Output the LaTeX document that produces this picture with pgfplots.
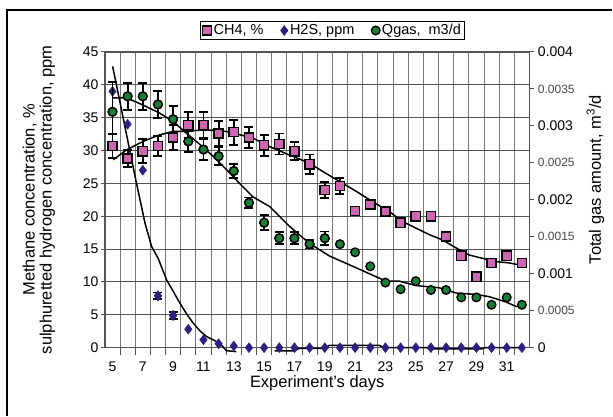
\documentclass[border=0pt]{standalone}
\usepackage{fontspec}
\setmainfont{Liberation Sans}
\usepackage{pgfplots}
\pgfplotsset{compat=1.18}
\usepackage{pgfplotstable}

\definecolor{chpink}{RGB}{204,102,176}
\definecolor{hsblue}{RGB}{46,30,130}
\definecolor{qgreen}{RGB}{24,128,52}
\definecolor{gridgray}{RGB}{120,120,120}
\definecolor{axgray}{RGB}{85,85,85}
\definecolor{labgray}{RGB}{70,70,70}

\newcommand\tickfont{\fontsize{14bp}{16bp}\selectfont}
\newcommand\smallfont{\fontsize{12bp}{14bp}\selectfont}
\newcommand\titlefont{\fontsize{16.5bp}{17bp}\selectfont}
\newcommand\legfont{\fontsize{14.5bp}{16bp}\selectfont}

% Methane, %: day, value, error
\pgfplotstableread{
day val err
5 30.7 1.8
6 28.8 1.3
7 29.9 1.8
8 30.7 1.5
9 32.0 1.9
10 33.9 2.0
11 33.9 2.0
12 32.6 1.9
13 32.8 1.9
14 32.0 1.6
15 30.8 1.6
16 31.0 1.6
17 29.9 1.35
18 27.9 1.5
19 24.0 1.2
20 24.6 1.2
21 20.8 0.5
22 21.8 0.7
23 20.7 0.75
}\chfourerr
\pgfplotstableread{
day val
5 30.7
6 28.8
7 29.9
8 30.7
9 32.0
10 33.9
11 33.9
12 32.6
13 32.8
14 32.0
15 30.8
16 31.0
17 29.9
18 27.9
19 24.0
20 24.6
21 20.8
22 21.8
23 20.7
24 19.0
25 20.0
26 20.0
27 16.9
28 14.0
29 10.8
30 12.9
31 14.0
32 12.9
}\chfour
\pgfplotstableread{
day val
5.05 28.6
5.93 30.1
7.03 31.4
8.13 32.4
9.0 32.9
9.88 32.9
10.76 33.1
11.63 33.1
12.51 32.9
13.39 32.4
14.26 31.9
15.36 30.6
16.68 29.3
17.99 28.1
18.87 26.8
19.97 25.3
21.07 23.8
22.16 22.2
23.26 20.7
24.13 19.2
25.01 18.2
25.89 17.2
26.76 16.4
27.64 15.2
28.52 14.1
29.39 13.6
30.28 13.1
31.15 12.9
32.03 12.5
}\chfourtrend

% Hydrogen sulphide, ppm
\pgfplotstableread{
day val
5 39.0
6 34.0
7 27.0
8 7.9
9 4.9
10 2.8
11 1.2
12 0.6
13 0.25
14 0
15 0
16 0
17 0
18 0
19 0
20 0
21 0
22 0
23 0
24 0
25 0
26 0
27 0
28 0
29 0
30 0
31 0
32 0
}\htwos
\pgfplotstableread{
day val err
8 7.9 0.5
9 4.9 0.5
}\htwoserr
\pgfplotstableread{
day val
5.01 42.8
5.5 37.3
6.0 31.6
6.55 25.4
7.14 19.0
7.58 15.4
8.01 13.6
8.57 10.3
9.0 8.6
9.44 6.8
9.9 5.1
10.32 3.75
10.75 2.6
11.2 1.7
12.07 0.7
12.51 -0.46
13.17 -0.6
}\htwostrendA
\pgfplotstableread{
day val
15.7 -0.5
17.0 -0.5
17.3 -0.1
19.0 -0.1
19.3 0.35
22.6 0.35
22.9 0
25.7 0
26.0 -0.2
29.3 -0.2
29.6 0
32.0 0
}\htwostrendB

% Total gas amount, m3/d
\pgfplotstableread{
day val err
5 0.00319 0.00040
6 0.00340 0.00018
7 0.00340 0.00018
8 0.00329 0.00018
9 0.00309 0.00018
10 0.00279 0.00014
11 0.00268 0.00014
12 0.00259 0.00012
13 0.00239 0.00009
14 0.00196 0.00007
15 0.00169 0.00010
16 0.00148 0.00008
17 0.00148 0.00008
18 0.00140 0.00006
19 0.00148 0.00009
}\qgaserr
\pgfplotstableread{
day val
5 0.00319
6 0.00340
7 0.00340
8 0.00329
9 0.00309
10 0.00279
11 0.00268
12 0.00259
13 0.00239
14 0.00196
15 0.00169
16 0.00148
17 0.00148
18 0.00140
19 0.00148
20 0.00140
21 0.00129
22 0.00110
23 0.00088
24 0.00079
25 0.00090
26 0.00078
27 0.00078
28 0.00068
29 0.00068
30 0.00058
31 0.00068
32 0.00058
}\qgas
\pgfplotstableread{
day val
5.01 0.00338
5.93 0.00338
7.03 0.00328
8.13 0.00317
9.0 0.00306
9.88 0.00290
10.76 0.00275
11.63 0.00259
12.51 0.00241
13.39 0.00222
14.26 0.00204
15.36 0.00191
16.68 0.00164
17.99 0.00141
19.31 0.00124
21.07 0.00108
22.38 0.00096
23.04 0.00090
23.91 0.00090
25.01 0.00084
26.55 0.00081
27.64 0.00074
28.96 0.00072
29.84 0.00069
30.93 0.00062
31.59 0.00056
32.03 0.00056
}\qgastrend

\pgfplotsset{
  common/.style={
    at={(0,0)}, anchor=south west,
    width=425bp, height=296bp, scale only axis,
    xmin=4.5, xmax=32.5,
    tick label style={font=\tickfont},
    label style={font=\titlefont},
    /pgf/number format/assume math mode=true,
  },
  trend/.style={black, line width=1.5bp, mark=none},
  ebars/.style={
    error bars/.cd, y dir=both, y explicit,
    error bar style={black, line width=1.8bp},
    error mark options={rotate=90, black, line width=1.8bp, mark size=4.5bp},
  },
  chmark/.style={only marks, mark=square*, mark size=4.6bp,
    mark options={fill=chpink, draw=black, line width=1.5bp}},
  hsmark/.style={only marks, mark=diamond*, mark size=5bp,
    mark options={fill=hsblue, draw=hsblue, line width=0.4bp}},
  qmark/.style={only marks, mark=*, mark size=4.3bp,
    mark options={fill=qgreen, draw=black, line width=1.4bp}},
}

\begin{document}
\begin{tikzpicture}

\begin{axis}[common,
  ymin=0, ymax=45,
  clip=false,
  axis line style={axgray, line width=1.6bp},
  tick pos=left,
  major tick length=0bp,
  minor tick length=7bp,
  xtick={5,7,...,31},
  xticklabels={5,7,9,11,13,15,17,19,21,23,25,27,29,31},
  xticklabel style={yshift=-11bp},
  minor xtick={5.5,6.5,...,31.5},
  xminorgrids,
  minor x grid style={gridgray, line width=0.8bp},
  xtick align=outside,
  ytick={0,5,...,45},
  yticklabels={0,5,10,15,20,25,30,35,40,45},
  yticklabel style={xshift=-3bp},
  minor ytick={0,5,...,45},
  ytick align=center,
  ymajorgrids,
  y grid style={axgray, line width=0.9bp},
  every tick/.style={axgray, line width=1bp},
  xlabel={Experiment's days},
  xlabel style={at={(axis description cs:0.5,-0.122)}, anchor=center},
  ylabel={Methane concentration, \%\\sulphuretted hydrogen concentration, ppm},
  ylabel style={at={(axis description cs:-0.1553,0.5)}, anchor=center, align=center},
]
\addplot[trend] table[x=day, y=val] {\chfourtrend};
\addplot[trend] table[x=day, y=val] {\htwostrendA};
\addplot[trend] table[x=day, y=val] {\htwostrendB};
\addplot[chmark, ebars] table[x=day, y=val, y error=err] {\chfourerr};
\addplot[chmark] table[x=day, y=val] {\chfour};
\addplot[hsmark, ebars] table[x=day, y=val, y error=err] {\htwoserr};
\addplot[hsmark] table[x=day, y=val] {\htwos};
\end{axis}

\begin{axis}[common,
  ymin=0, ymax=0.004,
  clip=false,
  axis x line=none,
  axis y line*=right,
  axis line style={axgray, line width=1.6bp},
  ytick={0,0.001,0.002,0.003,0.004},
  yticklabels={0,0.001,0.002,0.003,0.004},
  extra y ticks={0.0005,0.0015,0.0025,0.0035},
  extra y tick labels={0.0005,0.0015,0.0025,0.0035},
  extra y tick style={yticklabel style={font=\smallfont, text=labgray}},
  scaled y ticks=false,
  ytick align=outside,
  major tick length=5bp,
  every tick/.style={axgray, line width=1bp},
  ylabel={Total gas amount, m\textsuperscript{3}/d},
  ylabel style={at={(axis description cs:1.1553,0.568)}, anchor=center},
  legend columns=3,
  legend style={at={(axis description cs:0.5365,1.0726)}, anchor=center,
    draw=black, line width=1.2bp, font=\legfont,
    inner xsep=2bp, inner ysep=1bp,
    /tikz/every even column/.append style={column sep=15bp}},
]
% page extent and the chart's outer frame (top and left edges)
\path (rel axis cs:-0.24706,-0.22973) rectangle (rel axis cs:1.19529,1.17568);
\draw[black, line width=1.2bp] (rel axis cs:-0.23059,-0.22973)
  -- (rel axis cs:-0.23059,1.14189) -- (rel axis cs:1.19529,1.14189);
\addlegendimage{chmark}
\addlegendentry{CH4, \%}
\addlegendimage{hsmark}
\addlegendentry{H2S, ppm}
\addplot[trend, forget plot] table[x=day, y=val] {\qgastrend};
\addplot[qmark, forget plot, ebars] table[x=day, y=val, y error=err] {\qgaserr};
\addplot[qmark] table[x=day, y=val] {\qgas};
\addlegendentry{Qgas,\ \ m3/d}
\end{axis}
\end{tikzpicture}
\end{document}
